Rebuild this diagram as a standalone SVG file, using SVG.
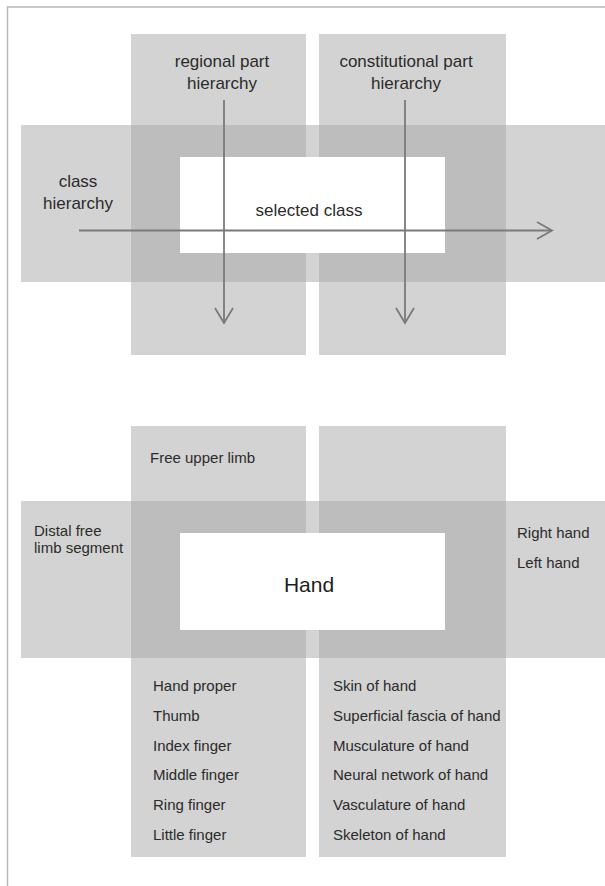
<svg xmlns="http://www.w3.org/2000/svg" width="605" height="886" viewBox="0 0 605 886">
<style>
.bg{fill:#ffffff}
.light{fill:#d3d3d3}
.dark{fill:#bdbdbd}
.box{fill:#ffffff}
.frame{stroke:#b8b8b8;stroke-width:1.5;fill:none}
.lbl{font-family:"Liberation Sans",Arial,sans-serif;fill:#2b2b2b;font-size:17px}
.item{font-family:"Liberation Sans",Arial,sans-serif;fill:#2b2b2b;font-size:15px}
.big{font-family:"Liberation Sans",Arial,sans-serif;fill:#1e1e1e;font-size:21px}
.arr{stroke:#7a7a7a;stroke-width:1.8;fill:none}
.head{stroke:#7a7a7a;stroke-width:1.8;fill:none;stroke-linejoin:miter}
</style>
<rect class="bg" x="0" y="0" width="605" height="886"/>
<path class="frame" d="M605 7 H7.5 V886"/>

<g id="top-diagram">
  <g id="top-regional-strip"><rect class="light" x="131" y="34" width="175" height="321"/></g>
  <g id="top-constitutional-strip"><rect class="light" x="319" y="34" width="187" height="321"/></g>
  <g id="top-class-band">
    <rect class="light" x="21" y="125" width="584" height="157"/>
    <rect class="dark" x="131" y="125" width="175" height="157"/>
    <rect class="dark" x="319" y="125" width="187" height="157"/>
  </g>
  <g id="selected-class">
    <rect class="box" x="180" y="157" width="265" height="96"/>
    <text class="lbl" x="309" y="216" text-anchor="middle">selected class</text>
  </g>
  <g id="label-regional">
    <text class="lbl" x="222" y="67" text-anchor="middle">regional part</text>
    <text class="lbl" x="222" y="89" text-anchor="middle">hierarchy</text>
  </g>
  <g id="label-constitutional">
    <text class="lbl" x="406" y="67" text-anchor="middle">constitutional part</text>
    <text class="lbl" x="406" y="89" text-anchor="middle">hierarchy</text>
  </g>
  <g id="label-class">
    <text class="lbl" x="78" y="187" text-anchor="middle">class</text>
    <text class="lbl" x="78" y="209" text-anchor="middle">hierarchy</text>
  </g>
  <g id="connectors">
    <line class="arr" x1="79" y1="230.5" x2="551" y2="230.5"/>
    <polyline class="head" points="537,222 552,230.5 537,239"/>
    <line class="arr" x1="224" y1="100" x2="224" y2="322"/>
    <polyline class="head" points="215,308 224,323 233,308"/>
    <line class="arr" x1="405" y1="100" x2="405" y2="322"/>
    <polyline class="head" points="396,308 405,323 414,308"/>
  </g>
</g>

<g id="bottom-diagram">
  <g id="bottom-regional-strip"><rect class="light" x="131" y="426" width="175" height="431"/></g>
  <g id="bottom-constitutional-strip"><rect class="light" x="319" y="426" width="187" height="431"/></g>
  <g id="bottom-class-band">
    <rect class="light" x="21" y="501" width="584" height="157"/>
    <rect class="dark" x="131" y="501" width="175" height="157"/>
    <rect class="dark" x="319" y="501" width="187" height="157"/>
  </g>
  <g id="hand">
    <rect class="box" x="180" y="533" width="265" height="97"/>
    <text class="big" x="309" y="592" text-anchor="middle">Hand</text>
  </g>
  <g id="free-upper-limb"><text class="item" x="150" y="463">Free upper limb</text></g>
  <g id="distal-free-limb-segment">
    <text class="item" x="34" y="536">Distal free</text>
    <text class="item" x="34" y="553">limb segment</text>
  </g>
  <g id="right-left-hand">
    <text class="item" x="517" y="538">Right hand</text>
    <text class="item" x="517" y="568">Left hand</text>
  </g>
  <g id="regional-parts">
    <text class="item" x="153" y="691">Hand proper</text>
    <text class="item" x="153" y="721">Thumb</text>
    <text class="item" x="153" y="751">Index finger</text>
    <text class="item" x="153" y="780">Middle finger</text>
    <text class="item" x="153" y="810">Ring finger</text>
    <text class="item" x="153" y="840">Little finger</text>
  </g>
  <g id="constitutional-parts">
    <text class="item" x="333" y="691">Skin of hand</text>
    <text class="item" x="333" y="721">Superficial fascia of hand</text>
    <text class="item" x="333" y="751">Musculature of hand</text>
    <text class="item" x="333" y="780">Neural network of hand</text>
    <text class="item" x="333" y="810">Vasculature of hand</text>
    <text class="item" x="333" y="840">Skeleton of hand</text>
  </g>
</g>
</svg>
